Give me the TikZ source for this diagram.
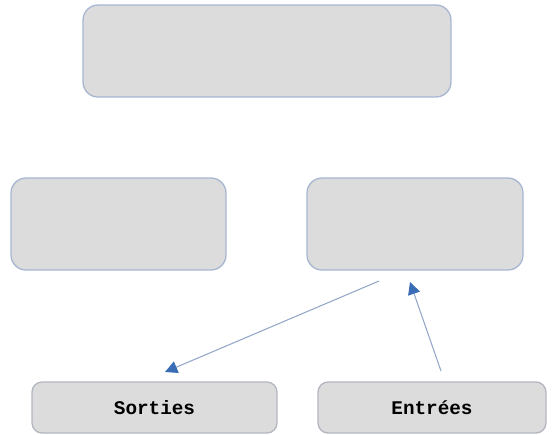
\documentclass[tikz,border=0pt]{standalone}
\usepackage{fontspec}
\setmonofont{Liberation Mono}
\usetikzlibrary{arrows.meta}
\definecolor{boxfill}{HTML}{DCDCDC}
\definecolor{boxline}{HTML}{A8B6D2}
\definecolor{lowline}{HTML}{B2B6BF}
\definecolor{arrline}{HTML}{93A6C9}
\definecolor{arrtip}{HTML}{3A6DB5}
\tikzset{
  bigbox/.style={draw=boxline, fill=boxfill, line width=0.75pt, rounded corners=0.3cm, minimum height=1.84cm},
  lowbox/.style={draw=lowline, fill=boxfill, line width=0.75pt, rounded corners=0.2cm, minimum height=1.02cm,
    font=\fontsize{11}{13}\selectfont\ttfamily\bfseries},
  link/.style={draw=arrline, line width=0.6pt, -{Triangle[color=arrtip, length=7pt, width=7pt]}}
}
\begin{document}
\begin{tikzpicture}[x=0.02cm, y=-0.02cm]
    \useasboundingbox (0, 0) rectangle (555, 434);
    \node [bigbox, minimum width=7.36cm] (top) at (267, 51) {};
    \node [bigbox, minimum width=4.3cm] (left) at (118.5, 224) {};
    \node [bigbox, minimum width=4.32cm] (right) at (415, 224) {};
    \node [lowbox, minimum width=4.9cm] (out) at (154.5, 407.5) {Sorties};
    \node [lowbox, minimum width=4.56cm] (in) at (432, 407.5) {Entrées};
    \coordinate (outfrom) at (379, 281);
    \coordinate (outto) at (165, 372);
    \coordinate (infrom) at (441, 371);
    \coordinate (into) at (410, 282);
    \draw [link] (outfrom) -- (outto);
    \draw [link] (infrom) -- (into);
  \end{tikzpicture}
\end{document}
